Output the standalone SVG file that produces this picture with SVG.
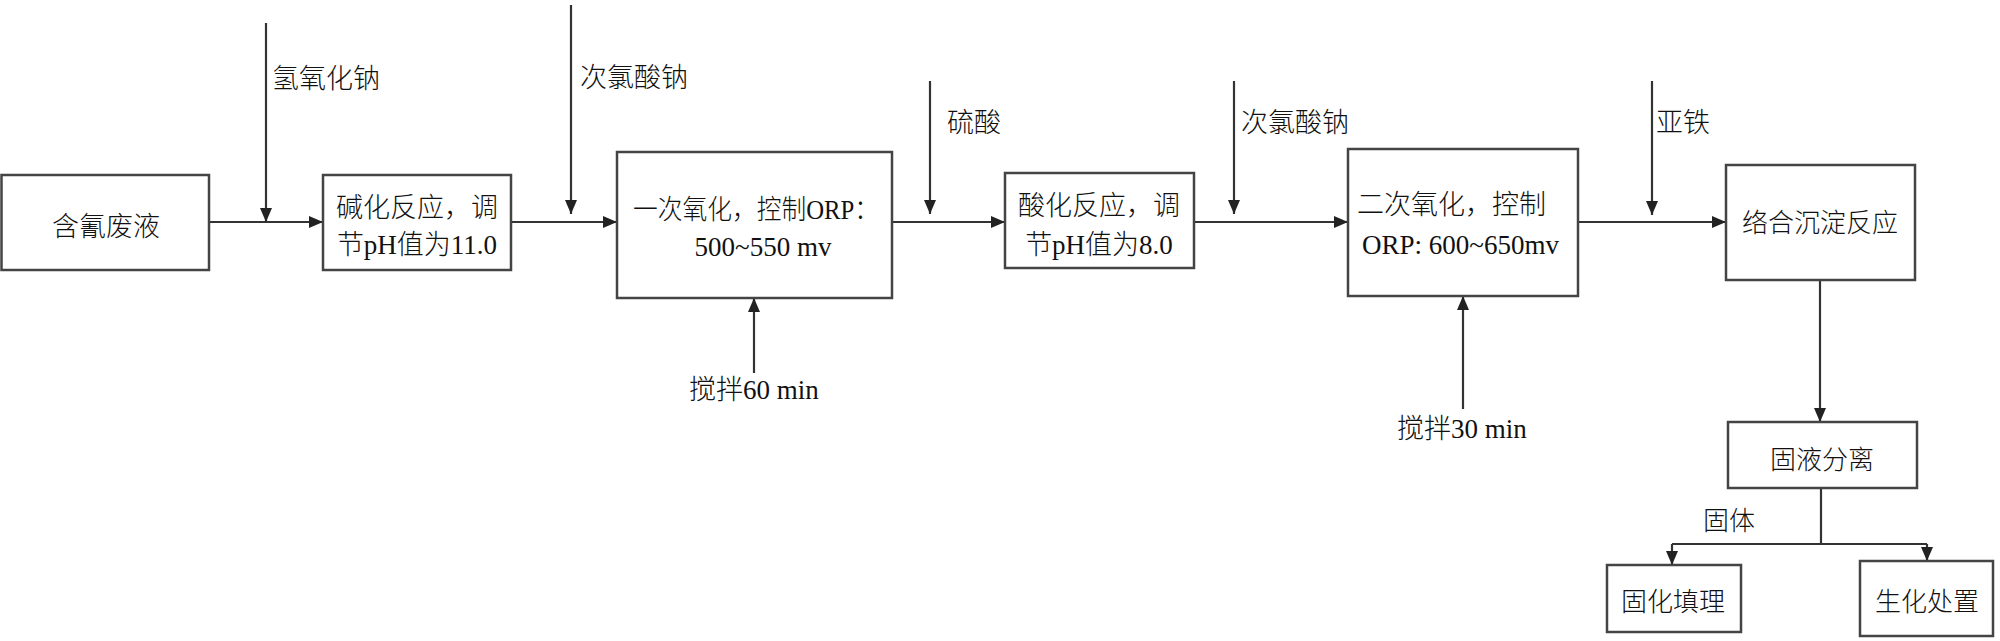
<svg xmlns="http://www.w3.org/2000/svg" width="2000" height="641" viewBox="0 0 2000 641">
<defs>
<marker id="ah" viewBox="0 0 14 12" refX="14" refY="6" markerWidth="14" markerHeight="12" markerUnits="userSpaceOnUse" orient="auto">
<path d="M0,0 L14,6 L0,12 z" fill="#222"/>
</marker>
</defs>
<style>
.box{fill:#fff;stroke:#444;stroke-width:2.5}
.t{font-family:"Liberation Serif","Noto Sans CJK SC",serif;font-size:27px;font-weight:300;fill:#111}
.s{font-size:26px}
.c{text-anchor:middle}
.ln{fill:none;stroke:#333;stroke-width:2.2}
.ar{fill:none;stroke:#333;stroke-width:2.2;marker-end:url(#ah)}
</style>
<rect width="2000" height="641" fill="#fff"/>
<g id="connectors">
<line class="ar" x1="209" y1="222" x2="323" y2="222"/>
<line class="ar" x1="511" y1="222" x2="617" y2="222"/>
<line class="ar" x1="892" y1="222" x2="1005" y2="222"/>
<line class="ar" x1="1194" y1="222" x2="1348" y2="222"/>
<line class="ar" x1="1578" y1="222" x2="1726" y2="222"/>
<line class="ar" x1="266" y1="23" x2="266" y2="222"/>
<line class="ar" x1="571" y1="5" x2="571" y2="214"/>
<line class="ar" x1="930" y1="81" x2="930" y2="214"/>
<line class="ar" x1="1234" y1="81" x2="1234" y2="214"/>
<line class="ar" x1="1652" y1="81" x2="1652" y2="215"/>
<line class="ar" x1="754" y1="373" x2="754" y2="298"/>
<line class="ar" x1="1463" y1="409" x2="1463" y2="296"/>
<line class="ar" x1="1820" y1="280" x2="1820" y2="422"/>
<polyline class="ln" points="1821,488 1821,544"/>
<polyline class="ln" points="1672,544 1927,544"/>
<line class="ar" x1="1672" y1="544" x2="1672" y2="565"/>
<line class="ar" x1="1927" y1="544" x2="1927" y2="561"/>
<text class="t" x="272" y="88">氢氧化钠</text>
<text class="t" x="580" y="87">次氯酸钠</text>
<text class="t" x="947" y="132">硫酸</text>
<text class="t" x="1241" y="132">次氯酸钠</text>
<text class="t" x="1656" y="132">亚铁</text>
<text class="t" x="689" y="399">搅拌60 min</text>
<text class="t" x="1397" y="438">搅拌30 min</text>
<text class="t s" x="1703" y="530">固体</text>
</g>
<g id="n1">
<rect class="box" x="1.5" y="175" width="207.5" height="95"/>
<text class="t c" x="106" y="236">含氰废液</text>
</g>
<g id="n2">
<rect class="box" x="323" y="175" width="188" height="95"/>
<text class="t c" x="417" y="217">碱化反应，调</text>
<text class="t c" x="417" y="254">节pH值为11.0</text>
</g>
<g id="n3">
<rect class="box" x="617" y="152" width="275" height="146"/>
<text class="t" x="633" y="219" textLength="246" lengthAdjust="spacingAndGlyphs">一次氧化，控制ORP：</text>
<text class="t c" x="763" y="256">500~550 mv</text>
</g>
<g id="n4">
<rect class="box" x="1005" y="173" width="189" height="95"/>
<text class="t c" x="1099" y="215">酸化反应，调</text>
<text class="t c" x="1099" y="254">节pH值为8.0</text>
</g>
<g id="n5">
<rect class="box" x="1348" y="149" width="230" height="147"/>
<text class="t" x="1357" y="214">二次氧化，控制</text>
<text class="t" x="1362" y="254">ORP: 600~650mv</text>
</g>
<g id="n6">
<rect class="box" x="1726" y="165" width="189" height="115"/>
<text class="t s c" x="1820" y="232">络合沉淀反应</text>
</g>
<g id="n7">
<rect class="box" x="1728" y="422" width="189" height="66"/>
<text class="t s c" x="1822" y="469">固液分离</text>
</g>
<g id="n8">
<rect class="box" x="1607" y="565" width="134" height="67"/>
<text class="t s c" x="1673" y="611">固化填理</text>
</g>
<g id="n9">
<rect class="box" x="1860" y="561" width="133" height="75"/>
<text class="t s c" x="1927" y="611">生化处置</text>
</g>
</svg>
